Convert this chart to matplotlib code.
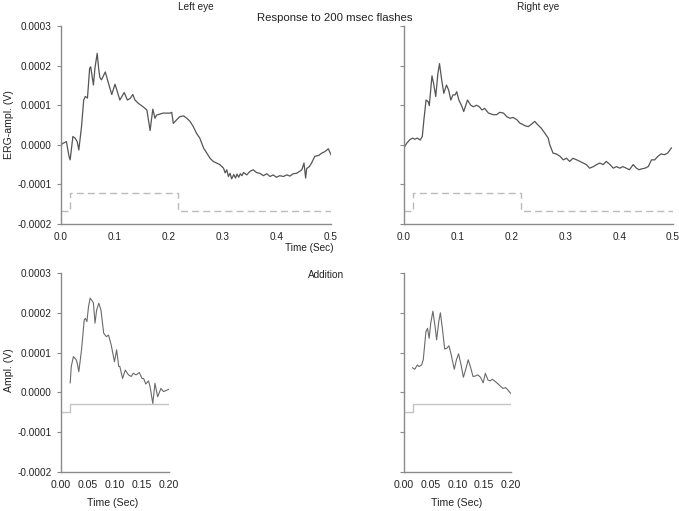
import numpy as np
import matplotlib
matplotlib.use("Agg")
import matplotlib.pyplot as plt

plt.rcParams['font.family'] = ['Liberation Sans', 'DejaVu Sans']

# ERG traces, amplitude in units of 1e-4 V, time in seconds
left_t = [0.000, 0.004, 0.010, 0.015, 0.017, 0.022, 0.026, 0.030, 0.033, 0.038, 0.042,
          0.045, 0.049, 0.051, 0.053, 0.055, 0.060, 0.063, 0.067, 0.070, 0.072, 0.075,
          0.082, 0.088, 0.094, 0.100, 0.103, 0.109, 0.117, 0.123, 0.128, 0.133, 0.137,
          0.143, 0.152, 0.159, 0.165, 0.170, 0.174, 0.177, 0.189, 0.202, 0.205, 0.208,
          0.214, 0.220, 0.227, 0.233, 0.239, 0.245, 0.251, 0.257, 0.264, 0.270, 0.276,
          0.282, 0.288, 0.294, 0.301, 0.304, 0.307, 0.310, 0.313, 0.316, 0.320, 0.323,
          0.326, 0.329, 0.332, 0.335, 0.338, 0.344, 0.350, 0.356, 0.362, 0.368, 0.375,
          0.381, 0.387, 0.393, 0.399, 0.405, 0.412, 0.418, 0.424, 0.430, 0.436, 0.442,
          0.446, 0.450, 0.453, 0.455, 0.460, 0.464, 0.470, 0.477, 0.483, 0.489, 0.495,
          0.500]
left_v = [0.00, 0.04, 0.08, -0.30, -0.38, 0.21, 0.17, 0.08, -0.13, 0.46, 1.13,
          1.22, 1.18, 1.55, 1.93, 1.97, 1.51, 1.95, 2.31, 1.89, 1.70, 1.64,
          1.84, 1.55, 1.27, 1.53, 1.40, 1.13, 1.32, 1.13, 1.17, 1.27, 1.13,
          1.05, 0.96, 0.88, 0.36, 0.90, 0.67, 0.75, 0.80, 0.80, 0.82, 0.54,
          0.63, 0.71, 0.73, 0.67, 0.59, 0.46, 0.29, 0.17, -0.08, -0.21, -0.34,
          -0.42, -0.46, -0.50, -0.59, -0.71, -0.63, -0.80, -0.72, -0.86, -0.75, -0.84,
          -0.74, -0.82, -0.73, -0.78, -0.70, -0.76, -0.67, -0.63, -0.70, -0.72, -0.78,
          -0.73, -0.80, -0.76, -0.82, -0.78, -0.80, -0.76, -0.79, -0.73, -0.72, -0.67,
          -0.63, -0.46, -0.84, -0.60, -0.55, -0.46, -0.29, -0.27, -0.21, -0.17, -0.10,
          -0.25]

right_t = [0.000, 0.005, 0.011, 0.016, 0.020, 0.025, 0.030, 0.034, 0.037, 0.041, 0.045,
           0.047, 0.052, 0.055, 0.059, 0.063, 0.066, 0.070, 0.074, 0.079, 0.083, 0.087,
           0.091, 0.095, 0.098, 0.102, 0.107, 0.111, 0.118, 0.124, 0.129, 0.135, 0.140,
           0.145, 0.150, 0.157, 0.166, 0.172, 0.178, 0.185, 0.191, 0.197, 0.203, 0.210,
           0.216, 0.220, 0.225, 0.231, 0.237, 0.243, 0.249, 0.255, 0.262, 0.268, 0.271,
           0.277, 0.283, 0.290, 0.296, 0.302, 0.308, 0.314, 0.321, 0.327, 0.333, 0.339,
           0.345, 0.352, 0.358, 0.364, 0.370, 0.376, 0.383, 0.389, 0.395, 0.401, 0.407,
           0.413, 0.419, 0.426, 0.432, 0.437, 0.441, 0.448, 0.454, 0.460, 0.466, 0.472,
           0.478, 0.484, 0.490, 0.497]
right_v = [-0.08, 0.04, 0.13, 0.17, 0.14, 0.17, 0.12, 0.21, 0.63, 1.13, 1.09,
           0.99, 1.74, 1.55, 1.22, 1.80, 2.05, 1.64, 1.30, 1.51, 1.38, 1.13,
           1.26, 1.26, 1.34, 1.13, 0.99, 0.84, 1.13, 1.00, 0.96, 1.00, 0.96,
           0.88, 0.92, 0.80, 0.76, 0.76, 0.82, 0.80, 0.71, 0.67, 0.69, 0.63,
           0.54, 0.52, 0.48, 0.46, 0.52, 0.59, 0.50, 0.42, 0.29, 0.17, 0.00,
           -0.21, -0.23, -0.29, -0.38, -0.34, -0.42, -0.34, -0.38, -0.42, -0.46, -0.50,
           -0.59, -0.55, -0.50, -0.46, -0.50, -0.42, -0.50, -0.59, -0.55, -0.59, -0.55,
           -0.59, -0.63, -0.50, -0.59, -0.63, -0.61, -0.59, -0.55, -0.38, -0.38, -0.29,
           -0.23, -0.25, -0.21, -0.08]

add_left_t = [0.017, 0.019, 0.023, 0.028, 0.030, 0.033, 0.038, 0.043, 0.045, 0.048, 0.051,
              0.054, 0.060, 0.063, 0.066, 0.070, 0.074, 0.079, 0.084, 0.088, 0.093, 0.099,
              0.103, 0.107, 0.109, 0.114, 0.119, 0.125, 0.130, 0.134, 0.139, 0.145, 0.150,
              0.153, 0.157, 0.162, 0.165, 0.170, 0.174, 0.179, 0.185, 0.190, 0.200]
add_left_v = [0.24, 0.65, 0.90, 0.82, 0.74, 0.52, 1.07, 1.82, 1.86, 1.78, 2.16,
              2.37, 2.25, 1.74, 2.07, 2.24, 2.07, 1.49, 1.40, 1.44, 1.19, 0.77,
              1.07, 0.65, 0.65, 0.35, 0.56, 0.44, 0.40, 0.48, 0.44, 0.50, 0.35,
              0.35, 0.21, 0.29, 0.14, -0.28, 0.23, -0.11, 0.10, 0.02, 0.08]

add_right_t = [0.016, 0.020, 0.025, 0.028, 0.033, 0.036, 0.041, 0.044, 0.047, 0.050, 0.054,
               0.058, 0.061, 0.065, 0.068, 0.072, 0.076, 0.080, 0.084, 0.088, 0.094, 0.098,
               0.102, 0.107, 0.111, 0.116, 0.120, 0.124, 0.129, 0.133, 0.138, 0.143, 0.148,
               0.152, 0.157, 0.161, 0.165, 0.171, 0.176, 0.180, 0.185, 0.190, 0.200]
add_right_v = [0.62, 0.58, 0.69, 0.65, 0.69, 0.82, 1.53, 1.61, 1.36, 1.74, 2.04,
               1.66, 1.32, 1.78, 2.00, 1.58, 1.09, 1.11, 1.17, 0.96, 0.58, 0.82,
               0.97, 0.67, 0.38, 0.61, 0.82, 0.65, 0.40, 0.41, 0.44, 0.38, 0.24,
               0.48, 0.31, 0.29, 0.33, 0.27, 0.21, 0.16, 0.10, 0.12, -0.03]

# flash markers (1e-4 V)
stim_t = [0.0, 0.016, 0.016, 0.217, 0.217, 0.5]
stim_v = [-1.68, -1.68, -1.21, -1.21, -1.68, -1.68]
add_stim_t = [0.0, 0.016, 0.016, 0.2]
add_stim_v = [-0.50, -0.50, -0.30, -0.30]

yticks = [-0.0002, -0.0001, 0.0, 0.0001, 0.0002, 0.0003]
ylabels = ['-0.0002', '-0.0001', '0.0000', '0.0001', '0.0002', '0.0003']

W, H = 679, 511
fig = plt.figure(figsize=(W / 100, H / 100), dpi=100)

def make_ax(x0, x1, y0, y1):
    ax = fig.add_axes([x0 / W, 1 - y1 / H, (x1 - x0) / W, (y1 - y0) / H])
    for s in ['top', 'right']:
        ax.spines[s].set_visible(False)
    for s in ['left', 'bottom']:
        ax.spines[s].set_color('#8a8a8a')
        ax.spines[s].set_linewidth(1.0)
    ax.tick_params(colors='#8a8a8a', labelcolor='#222222', length=3, width=0.8,
                   labelsize=7.2)
    ax.tick_params(axis='x', length=0, pad=6)
    ax.set_ylim(-0.0002, 0.0003)
    ax.set_yticks(yticks)
    ax.patch.set_alpha(0)
    return ax

sc = 1e-4

ax1 = make_ax(61, 331, 26, 224)
ax1.plot(left_t, np.array(left_v) * sc, color='#555555', lw=0.9)
ax1.plot(stim_t, np.array(stim_v) * sc, color='#bbbbbb', lw=1.0, ls=(0, (5, 3)))
ax1.set_xlim(0, 0.5)
ax1.set_xticks([0.0, 0.1, 0.2, 0.3, 0.4, 0.5])
ax1.set_xticklabels(['0.0', '0.1', '0.2', '0.3', '0.4', '0.5'])
ax1.set_yticklabels(ylabels)

ax2 = make_ax(404, 673, 26, 224)
ax2.plot(right_t, np.array(right_v) * sc, color='#555555', lw=0.9)
ax2.plot(stim_t, np.array(stim_v) * sc, color='#bbbbbb', lw=1.0, ls=(0, (5, 3)))
ax2.set_xlim(0, 0.5)
ax2.set_xticks([0.0, 0.1, 0.2, 0.3, 0.4, 0.5])
ax2.set_xticklabels(['0.0', '0.1', '0.2', '0.3', '0.4', '0.5'])
ax2.set_yticklabels([])

ax3 = make_ax(61, 169, 273, 472)
ax3.plot(add_left_t, np.array(add_left_v) * sc, color='#6a6a6a', lw=0.8)
ax3.plot(add_stim_t, np.array(add_stim_v) * sc, color='#c4c4c4', lw=1.0)
ax3.set_xlim(0, 0.2)
ax3.set_xticks([0.0, 0.05, 0.10, 0.15, 0.20])
ax3.set_xticklabels(['0.00', '0.05', '0.10', '0.15', '0.20'])
ax3.set_yticklabels(ylabels)
ax3.tick_params(axis='x', labelsize=7.6)

ax4 = make_ax(404, 511, 273, 472)
ax4.plot(add_right_t, np.array(add_right_v) * sc, color='#6a6a6a', lw=0.8)
ax4.plot(add_stim_t, np.array(add_stim_v) * sc, color='#c4c4c4', lw=1.0)
ax4.set_xlim(0, 0.2)
ax4.set_xticks([0.0, 0.05, 0.10, 0.15, 0.20])
ax4.set_xticklabels(['0.00', '0.05', '0.10', '0.15', '0.20'])
ax4.set_yticklabels([])
ax4.tick_params(axis='x', labelsize=7.6)

def ftext(x, y, s, **kw):
    fig.text(x / W, 1 - y / H, s, ha='center', va='center', color='#222222', **kw)

ftext(196, 7, 'Left eye', fontsize=7.2)
ftext(538, 7, 'Right eye', fontsize=7.2)
ftext(335, 18, 'Response to 200 msec flashes', fontsize=8.2)
ftext(309, 248, 'Time (Sec)', fontsize=7.2)
ftext(326, 275, 'Addition', fontsize=7.2)
ftext(113, 503, 'Time (Sec)', fontsize=7.6)
ftext(457, 503, 'Time (Sec)', fontsize=7.6)
ftext(9, 125, 'ERG-ampl. (V)', fontsize=7.6, rotation=90)
ftext(9, 370, 'Ampl. (V)', fontsize=7.6, rotation=90)

fig.savefig('out.png', dpi=100, facecolor='white')
